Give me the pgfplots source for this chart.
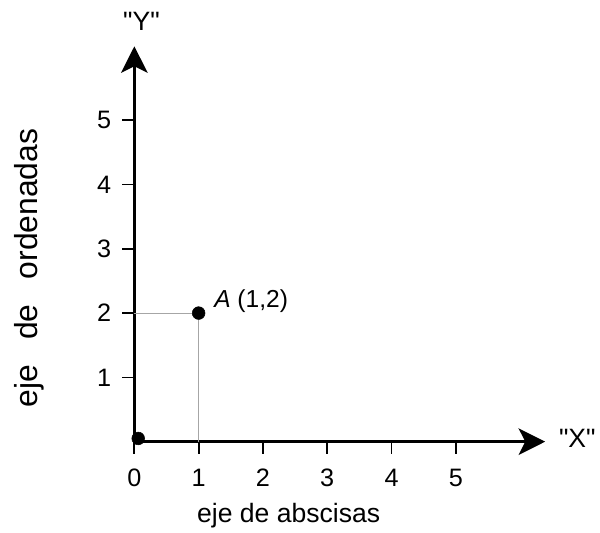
\documentclass[border=0pt]{standalone}
\usepackage{pgfplots}
\pgfplotsset{compat=1.18}
\usepackage{fontspec}
\setmainfont{Liberation Sans}[Ligatures=TeXOff]
\usetikzlibrary{arrows.meta}
\newcommand\tkfont{\fontsize{19}{22}\selectfont}
\begin{document}
\begin{tikzpicture}
\begin{axis}[
  x=48.45pt, y=48.45pt,
  axis lines=left,
  xmin=0, xmax=6.39, ymin=0, ymax=6.15,
  axis line style={line width=1.8pt, -{Stealth[length=20pt,width=20pt,inset=5pt]}},
  xtick={0,...,5}, ytick={1,...,5},
  tick align=outside, major tick length=9pt,
  tick style={line width=1.3pt, black},
  xticklabel={\tkfont\pgfmathprintnumber{\tick}},
  yticklabel={\tkfont\pgfmathprintnumber{\tick}},
  xticklabel style={yshift=-8pt},
  yticklabel style={xshift=-5pt},
  /pgf/number format/assume math mode=true,
  clip=false,
]
\path (axis cs:-2.09,-1.39) rectangle (axis cs:7.2,6.87);
\addplot[gray!70, line width=0.6pt] coordinates {(0,2) (1,2) (1,0)};
\addplot[only marks, mark=*, mark size=4.8pt, black] coordinates {(1,2) (0.06,0.05)};
\node[anchor=west, font=\fontsize{18.5}{21}\selectfont] at (axis cs:1.17,2.18) {\textit{A} (1,2)};
\node[anchor=base, font=\fontsize{20}{24}\selectfont] at (axis cs:2.40,-1.254) {eje de abscisas};
\node[rotate=90, font=\fontsize{24}{28}\selectfont] at (axis cs:-1.64,2.70) {eje\hspace{19pt}de\hspace{19pt}ordenadas};
\node[font=\fontsize{20}{24}\selectfont] at (axis cs:0.11,6.53) {"Y"};
\node[font=\fontsize{20}{24}\selectfont] at (axis cs:6.89,0.05) {"X"};
\end{axis}
\end{tikzpicture}
\end{document}
